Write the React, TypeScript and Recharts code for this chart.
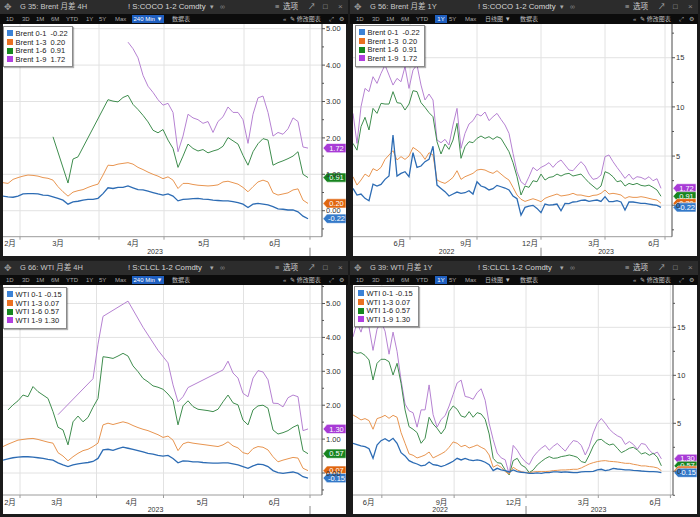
import React from 'react';
import { LineChart, Line, XAxis, YAxis, CartesianGrid, ReferenceLine } from 'recharts';

const FONT = '"Liberation Sans", Arial, "Noto Sans CJK SC", sans-serif';

// line colours in order: 0-1, 1-3, 1-6, 1-9
const lineColors = ['#2d6cb4', '#e89550', '#3f8d4e', '#b682d2'];
const keyColors = ['#3b82d6', '#ea7121', '#16871f', '#b13fe0'];
const badgeColors = ['#3479c9', '#e0660f', '#17841f', '#a83bd6'];

const brentNames = ['Brent 0-1', 'Brent 1-3', 'Brent 1-6', 'Brent 1-9'];
const wtiNames = ['WTI 0-1', 'WTI 1-3', 'WTI 1-6', 'WTI 1-9'];
const brentLast = [-0.22, 0.2, 0.91, 1.72];
const wtiLast = [-0.15, 0.07, 0.57, 1.3];

const months4h = ['2月', '3月', '4月', '5月', '6月'];
const months1y = ['6月', '9月', '12月', '3月', '6月'];

// ---- Brent 4H (240 min bars) ----
const brent4hB = [0.40,0.38,0.37,0.40,0.46,0.47,0.47,0.46,0.43,0.42,
  0.38,0.34,0.29,0.18,0.24,0.26,0.29,0.31,0.31,0.34,
  0.47,0.63,0.61,0.64,0.64,0.68,0.63,0.58,0.57,0.54,
  0.50,0.46,0.43,0.46,0.40,0.27,0.31,0.32,0.33,0.34,
  0.32,0.31,0.29,0.28,0.27,0.27,0.25,0.22,0.18,0.09,
  0.18,0.20,0.18,0.16,0.11,0.05,0.04,0.02,0.02,-0.03,
  -0.15,-0.22];
const brent4hO = [0.77,0.75,0.86,0.91,0.95,0.98,0.97,0.95,0.91,0.89,
  0.84,0.66,0.52,0.40,0.51,0.55,0.58,0.64,0.69,0.73,
  0.98,1.25,1.24,1.28,1.30,1.32,1.28,1.19,1.13,1.06,
  1.00,0.95,0.88,0.93,0.84,0.61,0.75,0.75,0.72,0.70,
  0.69,0.68,0.69,0.71,0.79,0.81,0.77,0.73,0.64,0.52,
  0.66,0.79,0.84,0.79,0.49,0.43,0.46,0.49,0.57,0.60,
  0.29,0.20];
const brent4hG = [null,null,null,null,null,null,null,null,null,null,
  2.03,null,null,0.76,1.42,1.48,null,null,null,null,
  null,3.05,3.01,2.99,3.11,3.17,2.92,2.78,2.62,2.44,
  2.21,2.14,2.23,1.94,1.71,1.19,1.50,1.83,1.71,1.64,
  1.68,1.59,1.64,1.68,1.77,2.01,1.92,1.83,1.52,1.25,
  1.62,1.84,1.98,1.94,1.25,1.32,1.37,1.43,1.50,1.62,
  1.00,0.91];
const brent4hP = [null,null,null,null,null,null,null,null,null,null,
  null,null,null,null,null,null,null,null,null,null,
  null,null,null,null,null,4.63,4.45,4.20,3.72,3.42,
  3.25,3.05,2.90,2.95,2.70,1.62,2.05,2.65,2.55,2.50,
  2.40,2.45,2.15,2.45,2.58,2.85,2.70,2.70,2.50,1.85,
  2.65,3.10,3.15,2.70,2.05,2.15,2.10,2.25,2.55,2.45,
  1.75,1.72];

// ---- WTI 4H ----
const wti4hB = [0.38,0.42,0.45,0.47,0.48,0.48,0.47,0.45,0.43,0.40,
  0.38,0.30,0.24,0.19,0.24,0.27,0.29,0.31,0.34,0.43,
  0.68,0.70,0.67,0.72,0.76,0.73,0.70,0.66,0.62,0.58,
  0.56,0.52,0.50,0.52,0.43,0.30,0.36,0.35,0.33,0.33,
  0.31,0.30,0.29,0.29,0.30,0.30,0.27,0.24,0.19,0.14,
  0.21,0.26,0.25,0.19,0.07,0.01,-0.01,0.01,0.03,-0.01,
  -0.11,-0.15];
const wti4hO = [0.78,0.85,0.91,0.97,0.99,1.01,1.02,0.99,0.95,0.91,
  0.88,0.60,0.50,0.36,0.48,0.58,0.66,0.70,0.78,0.88,
  1.42,1.47,1.43,1.47,1.51,1.47,1.40,1.34,1.29,1.25,
  1.19,1.13,1.05,1.09,0.97,0.66,0.86,0.91,0.88,0.86,
  0.84,0.82,0.80,0.78,0.83,0.92,0.80,0.74,0.60,0.56,
  0.72,0.78,0.76,0.68,0.48,0.33,0.38,0.42,0.46,0.44,
  0.14,0.07];
const wti4hG = [null,1.86,2.01,2.13,2.30,2.25,2.55,2.40,2.30,2.20,
  1.81,1.35,1.27,0.83,1.51,1.68,1.51,1.64,1.94,2.20,
  3.43,3.41,3.38,3.45,3.53,3.45,3.16,2.99,2.79,2.69,
  2.57,2.53,2.47,2.33,2.15,1.42,1.98,2.13,1.96,1.88,
  1.86,1.84,1.81,1.88,2.10,2.30,2.07,2.01,1.56,1.42,
  1.86,1.98,2.00,1.91,1.27,1.15,1.19,1.25,1.35,1.42,
  0.66,0.57];
const wti4hP = [null,null,null,null,null,null,null,null,null,null,
  null,1.72,null,null,null,null,null,null,2.78,3.80,
  4.62,null,null,null,null,5.07,null,null,4.30,null,
  null,3.62,null,3.25,2.60,2.10,2.25,2.52,null,null,
  null,null,null,null,3.04,3.30,2.95,2.80,2.35,2.25,
  2.80,3.02,2.98,2.75,2.06,2.05,1.95,2.22,2.30,2.25,
  1.25,1.30];

// ---- Brent 1Y (daily) ----
const brent1yB = [1.71,1.03,1.14,0.70,0.46,2.15,1.95,2.12,2.63,2.97,
  7.14,2.97,3.24,3.41,2.90,5.34,3.85,3.99,4.43,4.66,
  6.00,2.05,1.71,1.38,0.94,1.14,1.34,1.21,1.27,1.48,
  1.14,2.39,1.95,1.82,1.55,1.68,2.02,1.88,1.75,1.55,
  0.94,0.66,-1.00,-0.22,-0.08,-0.01,-0.32,-0.76,0.12,0.02,
  0.05,0.12,-0.56,0.19,0.16,0.33,0.36,0.49,0.53,0.39,
  0.46,0.53,0.39,0.87,0.36,0.36,0.46,0.33,-0.49,0.33,
  0.33,0.26,0.19,0.19,0.12,0.05,-0.01,-0.22];
const brent1yO = [2.90,2.05,2.56,3.17,2.90,3.72,3.51,3.85,4.66,5.11,
  5.55,4.60,4.94,4.66,5.00,5.88,5.61,5.27,4.66,5.34,
  5.11,2.56,2.36,2.22,2.49,2.83,3.51,2.63,2.90,3.07,
  3.24,3.58,3.65,3.58,3.38,3.24,3.51,3.17,2.83,2.56,
  1.82,1.04,0.60,0.39,0.53,0.66,0.53,0.36,0.70,0.87,
  1.00,1.14,0.94,1.00,1.07,1.21,1.04,1.04,0.94,0.87,
  1.00,1.04,1.21,1.55,1.14,1.21,1.14,1.04,0.70,0.87,
  0.80,0.80,0.87,0.80,0.70,0.60,0.53,0.20];
const brent1yG = [6.29,5.60,7.99,8.94,7.65,9.85,9.34,10.36,10.29,10.29,
  11.55,10.43,10.36,9.68,10.29,11.65,11.55,10.43,9.95,9.41,
  9.00,6.46,5.21,6.22,5.68,6.63,8.33,4.77,5.95,6.46,
  6.36,6.80,7.04,6.80,6.97,6.70,6.97,6.80,6.12,5.44,
  4.33,2.90,1.04,1.95,1.82,2.49,2.39,3.17,2.56,2.83,
  2.90,3.17,2.97,3.17,3.24,2.97,3.07,3.17,2.73,2.29,
  1.95,1.61,1.95,3.41,3.24,2.90,2.39,2.49,1.95,2.22,
  2.09,2.22,2.02,1.95,2.05,1.82,1.55,0.91];
const brent1yP = [9.34,6.29,10.02,11.88,11.55,13.07,12.39,13.41,14.26,13.24,
  12.22,12.90,12.56,14.09,11.88,13.75,14.26,12.22,10.70,11.31,
  10.70,6.63,6.36,6.70,6.12,8.16,9.85,5.78,7.31,8.26,
  8.60,9.27,9.07,9.48,8.60,9.00,9.34,8.73,8.16,7.31,
  5.27,3.41,2.39,2.05,2.90,3.85,3.51,3.85,4.05,4.33,
  3.85,4.33,4.60,4.09,3.58,3.51,3.99,4.43,3.99,3.17,
  2.63,2.73,3.07,4.94,5.11,4.43,3.85,3.31,2.73,3.17,
  2.63,2.90,2.83,2.63,2.90,2.49,2.70,1.72];

// ---- WTI 1Y ----
const wti1yB = [2.92,2.78,2.64,2.57,2.36,1.35,2.74,3.19,3.40,3.13,
  3.44,2.92,1.94,1.60,1.11,0.90,0.76,0.56,0.63,0.97,
  0.69,0.63,0.49,0.63,0.83,1.04,1.35,1.18,1.35,1.18,
  1.11,1.18,1.11,0.94,0.69,0.07,0.31,0.14,0.07,-0.07,
  0.14,-0.03,-0.10,-0.14,-0.21,-0.21,-0.17,-0.21,-0.14,-0.14,
  -0.07,-0.07,-0.10,-0.07,-0.10,-0.14,-0.14,-0.07,-0.03,-0.03,
  0.00,0.14,0.21,0.07,0.14,0.31,0.24,0.21,0.14,0.14,
  0.10,0.07,0.03,0.00,-0.03,-0.03,-0.07,-0.15];
const wti1yO = [5.87,5.63,5.35,5.49,5.28,4.38,5.49,5.63,5.83,5.52,
  5.83,5.63,4.03,2.92,1.81,1.67,1.39,1.53,1.70,2.01,
  1.39,1.60,1.81,2.05,2.50,3.06,2.92,2.57,2.71,2.43,
  2.57,2.74,2.50,2.29,1.70,0.42,0.66,0.42,-0.03,-0.28,
  0.42,0.14,-0.03,-0.14,-0.14,-0.07,-0.03,-0.03,-0.03,0.00,
  0.07,0.10,0.14,0.14,0.17,0.21,0.21,0.35,0.56,0.76,
  0.90,1.01,1.08,1.11,1.04,1.01,0.97,0.90,0.83,0.83,
  0.73,0.66,0.56,0.56,0.49,0.45,0.35,0.07];
const wti1yG = [12.47,12.29,12.36,12.08,11.60,9.51,11.25,11.67,11.67,11.42,
  10.03,11.25,9.17,6.39,4.65,4.38,4.03,2.92,3.44,5.63,
  4.93,4.48,3.89,4.48,6.22,6.81,6.46,5.76,5.63,6.22,
  5.63,6.11,5.97,5.42,3.89,1.35,0.90,0.83,0.14,-0.38,
  1.11,1.35,0.66,0.42,-0.14,0.14,0.66,1.01,1.32,1.53,
  1.35,1.39,1.53,1.60,1.70,1.60,1.46,1.01,0.90,1.70,
  2.64,3.26,3.33,2.99,2.74,2.85,2.40,1.94,2.15,2.40,
  2.50,2.22,1.81,1.94,1.67,1.88,1.46,0.57];
const wti1yP = [14.0,15.5,14.5,16.0,15.0,12.6,14.8,15.6,14.6,12.2,
  14.5,12.5,9.5,7.0,6.3,6.1,4.6,6.4,6.4,9.0,
  5.9,4.6,5.4,5.8,6.8,8.0,9.2,9.5,7.8,7.7,
  7.5,8.2,8.6,7.4,5.0,3.3,1.9,1.4,1.2,-0.3,
  2.7,2.2,1.5,1.0,0.7,1.5,2.0,2.4,2.7,2.2,
  2.6,2.9,2.5,2.1,2.7,3.2,3.1,2.7,1.7,2.6,
  4.0,5.0,5.5,5.0,4.4,4.0,3.7,3.5,2.8,3.1,
  2.8,2.3,2.9,2.8,2.2,1.8,2.0,1.30];

const fix2 = (v: number) => v.toFixed(2);
const plain = (v: number) => String(v);

type Cfg = {
  left: number; top: number; w: number; h: number; axisW: number;
  xEnd: number; yDom: [number, number];
  yMajor: number[]; yMinor: number[]; fmt: (v: number) => string;
  grid: number[]; monthPos: number[]; months: string[];
  yearPos: number[]; years: string[]; marks: number[];
  axH: number[];
  series: (number | null)[][];
  last: number[];
};

const panels: Cfg[] = [
  {
    left: 3, top: 24, w: 343, h: 232, axisW: 24, xEnd: 63.8, yDom: [-0.714, 5.129],
    yMajor: [0, 1, 2, 3, 4, 5], yMinor: [-0.5, 0.5, 1.5, 2.5, 3.5, 4.5], fmt: fix2,
    grid: [3.4, 19.2, 32.2, 48.2, 61.4], monthPos: [1.4, 11, 26, 40.2, 54.4], months: months4h,
    yearPos: [30.4], years: ['2023'], marks: [61.4], axH: [3, 8, 8.3],
    series: [brent4hB, brent4hO, brent4hG, brent4hP], last: brentLast,
  },
  {
    left: 353, top: 24, w: 344, h: 232, axisW: 25, xEnd: 79.75, yDom: [-3.2, 18.43],
    yMajor: [0, 5, 10, 15], yMinor: [-2.5, 2.5, 7.5, 12.5, 17.5], fmt: plain,
    grid: [14.25, 31, 47, 63, 78], monthPos: [11.6, 28.25, 44.25, 60.25, 75.25], months: months1y,
    yearPos: [23.4, 63.25], years: ['2022', '2023'], marks: [47], axH: [3, 8, 8.3],
    series: [brent1yB, brent1yO, brent1yG, brent1yP], last: brentLast,
  },
  {
    left: 3, top: 285, w: 343, h: 229, axisW: 24, xEnd: 63.8, yDom: [-0.649, 5.546],
    yMajor: [0, 1, 2, 3, 4, 5], yMinor: [-0.5, 0.5, 1.5, 2.5, 3.5, 4.5, 5.5], fmt: fix2,
    grid: [3.4, 18.7, 32.1, 48.1, 61.4], monthPos: [1.4, 10.8, 25.7, 39.9, 54.3], months: months4h,
    yearPos: [30.5], years: ['2023'], marks: [61.4], axH: [3, 8, 8],
    series: [wti4hB, wti4hO, wti4hG, wti4hP], last: wtiLast,
  },
  {
    left: 353, top: 285, w: 344, h: 229, axisW: 24, xEnd: 79.9, yDom: [-2.47, 19.41],
    yMajor: [0, 5, 10, 15], yMinor: [-2.5, 2.5, 7.5, 12.5, 17.5], fmt: plain,
    grid: [7.2, 25.25, 43.2, 61.25, 79.25], monthPos: [3.9, 22.1, 40.1, 57.6, 75.5], months: months1y,
    yearPos: [21.75, 61.3], years: ['2022', '2023'], marks: [43.2], axH: [3, 8, 8],
    series: [wti1yB, wti1yO, wti1yG, wti1yP], last: wtiLast,
  },
];

const Blank = () => <g />;

const YTick = (props: any) => {
  const { x, y, payload, major, fmt } = props;
  const isMajor = major.includes(payload.value);
  return (
    <g>
      <line x1={x - 4} x2={isMajor ? x - 1 : x - 2} y1={y} y2={y} stroke="#555" strokeWidth={1} />
      {isMajor && (
        <text x={x} y={y} dy="0.35em" fontSize={7.5} fill="#333" fontFamily={FONT}>{fmt(payload.value)}</text>
      )}
    </g>
  );
};

const MonthTick = (props: any) => {
  const { x, y, payload, pos, txt } = props;
  const k = pos.indexOf(payload.value);
  return (
    <text x={x} y={y + 4} dy="0.35em" textAnchor="middle" fontSize={7.5} fill="#333" fontFamily={FONT}>{txt[k]}</text>
  );
};

const YearTick = (props: any) => {
  const { x, y, payload, pos, txt, marks, h } = props;
  if (marks.includes(payload.value)) {
    return <line x1={x} x2={x} y1={y} y2={y + h} stroke="#888" />;
  }
  const k = pos.indexOf(payload.value);
  return (
    <text x={x} y={y + 3.6} dy="0.35em" textAnchor="middle" fontSize={7} fill="#333" fontFamily={FONT}>{txt[k]}</text>
  );
};

const Badge = (props: any) => {
  const { viewBox, text, color } = props;
  if (!viewBox) return null;
  const x0 = viewBox.x + viewBox.width + 1;
  const y = viewBox.y;
  const pts = `${x0},${y} ${x0 + 4},${y - 4.6} ${x0 + 23},${y - 4.6} ${x0 + 23},${y + 4.6} ${x0 + 4},${y + 4.6}`;
  return (
    <g>
      <polygon points={pts} fill={color} stroke="#ffffff" strokeWidth={0.6} />
      <text x={x0 + 13.5} y={y} dy="0.35em" textAnchor="middle" fontSize={7.5} fill="#fff" fontFamily={FONT}>{text}</text>
    </g>
  );
};

const keys = ['b', 'o', 'g', 'p'];

function Panel({ c }: { c: Cfg }) {
  const rows = c.series[0].map((_, i) => ({
    i, b: c.series[0][i], o: c.series[1][i], g: c.series[2][i], p: c.series[3][i],
  }));
  const allY = [...c.yMinor, ...c.yMajor].sort((a, b) => a - b);
  return (
    <div style={{ position: 'absolute', left: c.left, top: c.top, width: c.w, height: c.h, background: '#fff' }}>
      <LineChart width={c.w} height={c.h} data={rows} margin={{ top: 0, right: 0, bottom: 0, left: 0 }}>
        <CartesianGrid xAxisId="g" yAxisId="v" stroke="#e2e2e2" horizontalValues={c.yMajor} verticalValues={c.grid} />
        <XAxis xAxisId="g" type="number" dataKey="i" domain={[0, c.xEnd]} allowDataOverflow ticks={c.grid}
          interval={0} height={c.axH[0]} tickSize={3} tick={<Blank />}
          axisLine={{ stroke: '#9c9c9c' }} tickLine={{ stroke: '#9c9c9c' }} />
        <XAxis xAxisId="m" type="number" dataKey="i" domain={[0, c.xEnd]} allowDataOverflow ticks={c.monthPos}
          interval={0} height={c.axH[1]} tickSize={0} tickMargin={0} tickLine={false} axisLine={false}
          tick={<MonthTick pos={c.monthPos} txt={c.months} />} />
        <XAxis xAxisId="y" type="number" dataKey="i" domain={[0, c.xEnd]} allowDataOverflow
          ticks={[...c.yearPos, ...c.marks]} interval={0} height={c.axH[2]} tickSize={0} tickMargin={0}
          tickLine={false} axisLine={false}
          tick={<YearTick pos={c.yearPos} txt={c.years} marks={c.marks} h={c.axH[2]} />} />
        <YAxis yAxisId="v" orientation="right" type="number" domain={c.yDom} allowDataOverflow ticks={allY}
          interval={0} width={c.axisW} tickSize={3} tickMargin={1} tickLine={false}
          axisLine={{ stroke: '#4a4a4a' }} tick={<YTick major={c.yMajor} fmt={c.fmt} />} />
        {[3, 2, 1, 0].map((k) => (
          <Line key={keys[k]} xAxisId="g" yAxisId="v" type="linear" dataKey={keys[k]} stroke={lineColors[k]}
            strokeWidth={k === 0 ? 1.3 : 1} dot={false} connectNulls isAnimationActive={false} />
        ))}
        {[3, 2, 1, 0].map((k) => (
          <ReferenceLine key={'r' + k} xAxisId="g" yAxisId="v" y={c.last[k]} stroke="none"
            label={<Badge text={c.last[k].toFixed(2)} color={badgeColors[k]} />} />
        ))}
      </LineChart>
    </div>
  );
}

function KeyBox({ x, y, w, h, names, last, nameW }: any) {
  return (
    <div style={{
      position: 'absolute', left: x, top: y, width: w, height: h, background: '#fff',
      border: '1px solid #8a8a8a', boxShadow: '1px 1px 1px rgba(0,0,0,0.3)', boxSizing: 'border-box',
      padding: '2px 0 0 3px', fontFamily: FONT, fontSize: 7.5, color: '#222',
    }}>
      {names.map((n: string, k: number) => (
        <div key={n} style={{ display: 'flex', alignItems: 'center', height: 8.7, whiteSpace: 'nowrap' }}>
          <span style={{ width: 6, height: 6, background: keyColors[k], marginRight: 2.5, flexShrink: 0 }} />
          <span style={{ width: nameW, flexShrink: 0 }}>{n}</span>
          <span style={{ flexShrink: 0 }}>{last[k].toFixed(2)}</span>
        </div>
      ))}
    </div>
  );
}

function T({ x, y, h, size, color, children, bg, w }: any) {
  return (
    <span style={{
      position: 'absolute', left: x, top: y, height: h, lineHeight: h + 'px', fontSize: size,
      color: color || '#c9c9c9', fontFamily: FONT, whiteSpace: 'nowrap', background: bg,
      width: w, textAlign: w ? 'center' : undefined,
    }}>{children}</span>
  );
}

function Header({ x, y, title, ticker, intraday }: any) {
  const ty = y + 14;
  const tabs: [string, number][] = [['1D', 6], ['3D', 22], ['1M', 36], ['6M', 51], ['YTD', 66], ['1Y', 86], ['5Y', 99], ['Max', 115]];
  return (
    <>
      <div style={{ position: 'absolute', left: x, top: y, width: 348, height: 14, background: '#2c2c2c' }} />
      <div style={{ position: 'absolute', left: x, top: ty, width: 348, height: 10, background: '#0c0c0c' }} />
      <T x={x + 4} y={y} h={14} size={9} color="#9a9a9a">✥</T>
      <T x={x + 20} y={y} h={14} size={7.5}>{title}</T>
      <T x={x + 128} y={y} h={14} size={7.8} color="#d8d8d8">{ticker}</T>
      <T x={x + 210} y={y} h={14} size={7} color="#aaa">▾</T>
      <T x={x + 220} y={y} h={14} size={7} color="#888">∞</T>
      <T x={x + 275} y={y} h={14} size={7.5} color="#aaa">≡</T>
      <T x={x + 283} y={y} h={14} size={7.5} color="#d0d0d0">选项</T>
      <T x={x + 308} y={y} h={14} size={7.5} color="#aaa">↗</T>
      <T x={x + 323} y={y} h={14} size={7.5} color="#aaa">□</T>
      <T x={x + 338} y={y} h={14} size={8} color="#888">×</T>
      {tabs.map(([t, tx]) => (
        intraday || t !== '1Y'
          ? <T key={t} x={x + tx} y={ty} h={10} size={6} color="#a8a8a8">{t}</T>
          : <T key={t} x={x + tx - 1} y={ty + 1} h={8} size={6} color="#fff" bg="#1f5fc0" w={12}>{t}</T>
      ))}
      {intraday
        ? <T x={x + 132} y={ty + 1} h={8} size={6} color="#fff" bg="#1f5fc0" w={32}>240 Min ▼</T>
        : <T x={x + 135} y={ty} h={10} size={6} color="#c0c0c0">日线图 ▼</T>}
      <T x={x + (intraday ? 172 : 170)} y={ty} h={10} size={6} color="#c0c0c0">数据表</T>
      <T x={x + 283} y={ty} h={10} size={6} color="#aaa">«</T>
      <T x={x + 290} y={ty} h={10} size={6} color="#c0c0c0">✎ 修改图表</T>
      <T x={x + 329} y={ty} h={10} size={6} color="#aaa">⤢</T>
      <T x={x + 339} y={ty} h={10} size={6} color="#aaa">⚙</T>
    </>
  );
}

export default function App() {
  return (
    <div style={{ position: 'absolute', left: 0, top: 0, width: 700, height: 517, background: '#1b1b1b', overflow: 'hidden' }}>
      <Header x={0} y={0} title="G 35: Brent 月差 4H" ticker="! S:COCO 1-2 Comdty" intraday />
      <Header x={350} y={0} title="G 56: Brent 月差 1Y" ticker="! S:COCO 1-2 Comdty" intraday={false} />
      <Header x={0} y={261} title="G 66: WTI 月差 4H" ticker="! S:CLCL 1-2 Comdty" intraday />
      <Header x={350} y={261} title="G 39: WTI 月差 1Y" ticker="! S:CLCL 1-2 Comdty" intraday={false} />
      {panels.map((c, k) => <Panel key={k} c={c} />)}
      <KeyBox x={3} y={26} w={70} h={41} names={brentNames} last={brentLast} nameW={35} />
      <KeyBox x={355} y={25} w={70} h={42} names={brentNames} last={brentLast} nameW={35} />
      <KeyBox x={3} y={287} w={64} h={42} names={wtiNames} last={wtiLast} nameW={29} />
      <KeyBox x={354} y={286} w={65} h={41} names={wtiNames} last={wtiLast} nameW={29} />
    </div>
  );
}
